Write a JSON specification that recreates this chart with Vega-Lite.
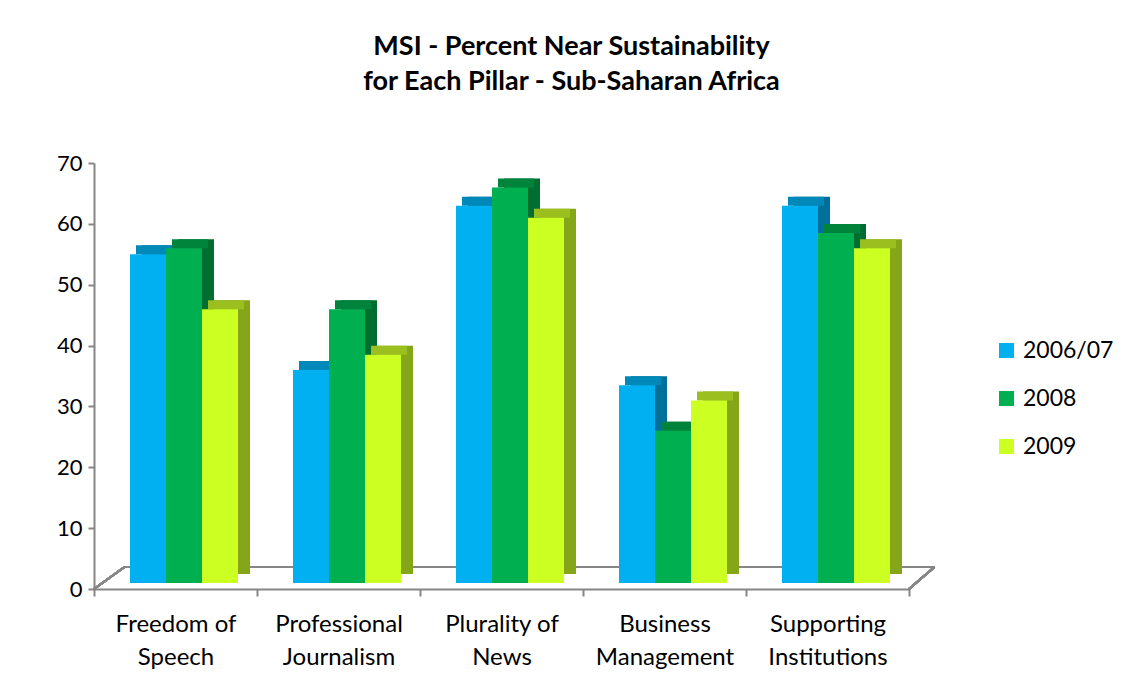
{
  "$schema": "https://vega.github.io/schema/vega-lite/v6.json",
  "width": 815,
  "height": 426,
  "autosize": {"type": "none"},
  "padding": {"left": 94, "top": 163, "right": 213, "bottom": 97},
  "background": "white",
  "config": {
    "font": "Lato",
    "view": {"stroke": null}
  },
  "title": {
    "text": ["MSI - Percent Near Sustainability", "for Each Pillar - Sub-Saharan Africa"],
    "font": "Lato",
    "fontSize": 27,
    "fontWeight": "bold",
    "color": "#000000",
    "anchor": "middle",
    "dx": 70,
    "offset": 56,
    "lineHeight": 35
  },
  "data": {
    "values": [
      {"pillar": "Freedom of Speech", "year": "2006/07", "value": 54},
      {"pillar": "Freedom of Speech", "year": "2008", "value": 55},
      {"pillar": "Freedom of Speech", "year": "2009", "value": 45},
      {"pillar": "Professional Journalism", "year": "2006/07", "value": 35},
      {"pillar": "Professional Journalism", "year": "2008", "value": 45},
      {"pillar": "Professional Journalism", "year": "2009", "value": 37.5},
      {"pillar": "Plurality of News", "year": "2006/07", "value": 62},
      {"pillar": "Plurality of News", "year": "2008", "value": 65},
      {"pillar": "Plurality of News", "year": "2009", "value": 60},
      {"pillar": "Business Management", "year": "2006/07", "value": 32.5},
      {"pillar": "Business Management", "year": "2008", "value": 25},
      {"pillar": "Business Management", "year": "2009", "value": 30},
      {"pillar": "Supporting Institutions", "year": "2006/07", "value": 62},
      {"pillar": "Supporting Institutions", "year": "2008", "value": 57.5},
      {"pillar": "Supporting Institutions", "year": "2009", "value": 55}
    ]
  },
  "encoding": {
    "x": {
      "field": "pillar",
      "type": "nominal",
      "sort": null,
      "title": null,
      "scale": {
        "domain": ["Freedom of Speech", "Professional Journalism", "Plurality of News", "Business Management", "Supporting Institutions"],
        "paddingInner": 0,
        "paddingOuter": 0
      },
      "axis": {
        "labelAngle": 0,
        "labelFontSize": 24,
        "labelColor": "#000000",
        "labelLineHeight": 33,
        "labelPadding": 16,
        "labelExpr": "[substring(datum.label, 0, lastindexof(datum.label, ' ')), substring(datum.label, lastindexof(datum.label, ' ') + 1)]",
        "tickBand": "extent",
        "tickSize": 7,
        "tickColor": "#868686",
        "tickWidth": 2,
        "domainColor": "#868686",
        "domainWidth": 2
      }
    }
  },
  "layer": [
    {
      "mark": {"type": "rule", "color": "#868686", "strokeWidth": 2, "xOffset": 30, "yOffset": -22, "x2Offset": 107, "y2Offset": -22},
      "encoding": {
        "x": {"datum": "Freedom of Speech", "bandPosition": 0},
        "x2": {"datum": "Supporting Institutions"},
        "y": {"datum": 0, "type": "quantitative"},
        "y2": {"datum": 0}
      }
    },
    {
      "mark": {"type": "rule", "color": "#868686", "strokeWidth": 2, "x2Offset": -51, "y2Offset": -22},
      "encoding": {
        "x": {"datum": "Freedom of Speech", "bandPosition": 0},
        "x2": {"datum": "Freedom of Speech"},
        "y": {"datum": 0, "type": "quantitative"},
        "y2": {"datum": 0}
      }
    },
    {
      "mark": {"type": "rule", "color": "#868686", "strokeWidth": 2, "x2Offset": 107, "y2Offset": -22},
      "encoding": {
        "x": {"datum": "Supporting Institutions", "bandPosition": 1},
        "x2": {"datum": "Supporting Institutions"},
        "y": {"datum": 0, "type": "quantitative"},
        "y2": {"datum": 0}
      }
    },
    {
      "mark": {"type": "bar", "yOffset": -15, "y2Offset": -15},
      "encoding": {
        "xOffset": {"field": "year", "type": "nominal", "scale": {"range": [48, 156]}},
        "y": {"field": "value", "type": "quantitative", "stack": null},
        "y2": {"datum": 0},
        "color": {
          "field": "year",
          "type": "nominal",
          "scale": {"domain": ["2006/07", "2008", "2009"], "range": ["#006F9A", "#006E30", "#84A618"]},
          "legend": null
        }
      }
    },
    {
      "mark": {"type": "bar", "yOffset": -15, "y2Offset": -6},
      "encoding": {
        "xOffset": {"field": "year", "type": "nominal", "scale": {"range": [42, 150]}},
        "y": {"field": "value", "type": "quantitative", "stack": null},
        "y2": {"field": "value"},
        "color": {
          "field": "year",
          "type": "nominal",
          "scale": {"domain": ["2006/07", "2008", "2009"], "range": ["#0088B8", "#00843C", "#9ABF1E"]},
          "legend": null
        }
      }
    },
    {
      "mark": {"type": "bar", "yOffset": -6, "y2Offset": -6},
      "encoding": {
        "xOffset": {"field": "year", "type": "nominal", "scale": {"range": [36, 144]}},
        "y": {
          "field": "value",
          "type": "quantitative",
          "stack": null,
          "title": null,
          "scale": {"domain": [0, 70], "nice": false},
          "axis": {
            "values": [0, 10, 20, 30, 40, 50, 60, 70],
            "grid": false,
            "labelFontSize": 22,
            "labelColor": "#000000",
            "labelPadding": 6,
            "tickSize": 6,
            "tickColor": "#868686",
            "tickWidth": 2,
            "domainColor": "#868686",
            "domainWidth": 2
          }
        },
        "y2": {"datum": 0},
        "color": {
          "field": "year",
          "type": "nominal",
          "scale": {"domain": ["2006/07", "2008", "2009"], "range": ["#00B0F0", "#00B050", "#CCFF22"]},
          "legend": {
            "title": null,
            "orient": "none",
            "legendX": 901,
            "legendY": 176,
            "symbolType": "square",
            "symbolSize": 225,
            "symbolStrokeWidth": 0,
            "labelFontSize": 23,
            "labelColor": "#000000",
            "labelOffset": 5,
            "rowPadding": 24
          }
        }
      }
    }
  ],
  "resolve": {"scale": {"color": "independent", "xOffset": "independent"}}
}
